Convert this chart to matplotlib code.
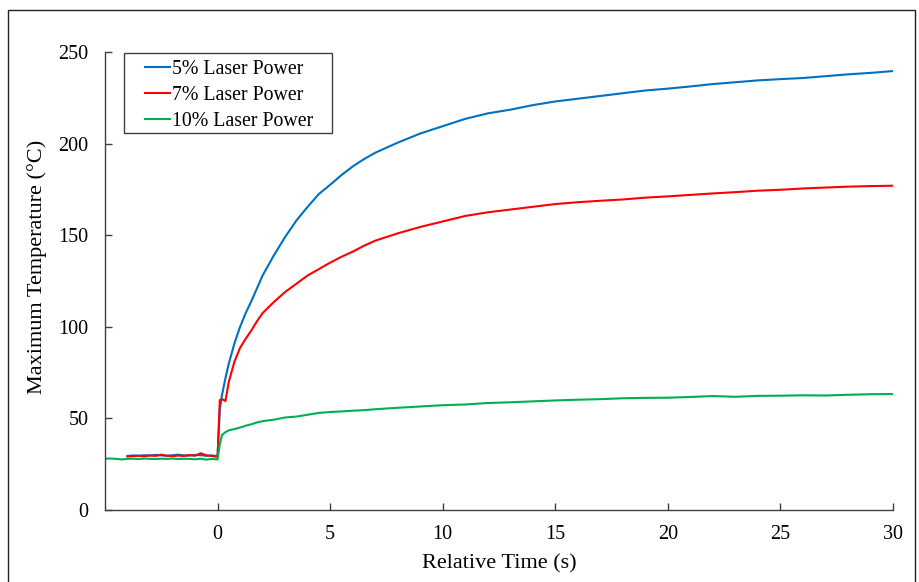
import matplotlib
matplotlib.use("Agg")
import matplotlib.pyplot as plt
from matplotlib.patches import Rectangle

plt.rcParams['font.family'] = ['Liberation Serif', 'DejaVu Serif']

# time before laser on (s)
t_pre_5_7 = [-4.0, -3.75, -3.5, -3.25, -3.0, -2.75, -2.5, -2.25, -2.0, -1.75,
             -1.5, -1.25, -1.0, -0.75, -0.5, -0.25, 0.0]
t_pre_10 = [-5.0, -4.75, -4.5, -4.25, -4.0, -3.75, -3.5, -3.25, -3.0, -2.75, -2.5,
            -2.25, -2.0, -1.75, -1.5, -1.25, -1.0, -0.75, -0.5, -0.25, 0.0]
# time after laser on (s)
t_post = [0.1, 0.2, 0.35, 0.5, 0.75, 1.0, 1.25, 1.5, 1.75, 2.0, 2.5, 3.0, 3.5, 4.0,
          4.5, 5.0, 5.5, 6, 6.5, 7, 8, 9, 10, 11, 12, 13, 14, 15, 16, 17, 18, 19,
          20, 21, 22, 23, 24, 25, 26, 27, 28, 29, 30]

p5_pre = [29.5, 29.8, 29.6, 29.9, 29.7, 30.1, 29.8, 29.6, 29.9, 30.2, 29.8, 29.7,
          30.0, 29.9, 29.6, 29.8, 29.4]
p5_post = [55, 63, 72, 80, 91, 100, 107.5, 114, 121, 128, 139, 149, 158, 165.5,
           172.5, 177.5, 182.8, 187.5, 191.5, 195, 200.5, 205.5, 209.5, 213.5,
           216.5, 218.5, 221, 223, 224.5, 226, 227.5, 229, 230, 231.2, 232.5,
           233.5, 234.5, 235.2, 235.8, 236.8, 237.8, 238.6, 239.6]

p7_pre = [29.2, 29.4, 29.6, 29.3, 29.8, 29.5, 30.2, 29.6, 29.4, 29.7, 29.5, 30.0,
          29.6, 31.0, 29.8, 29.5, 29.0]
p7_post = [60, 60.5, 59.5, 70, 81, 88.5, 93.5, 98, 103, 107.5, 113.5, 119, 123.5,
           128, 131.5, 135, 138.2, 141, 144.2, 147, 151, 154.5, 157.5, 160.5,
           162.5, 164, 165.5, 167, 168, 168.8, 169.5, 170.5, 171.2, 172, 172.8,
           173.5, 174.3, 174.8, 175.5, 176, 176.5, 176.8, 177]

p10_pre = [28.0, 28.1, 27.9, 27.6, 27.9, 28.0, 27.8, 28.1, 27.9, 27.8, 28.0, 27.9,
           28.1, 27.8, 28.0, 27.9, 27.7, 28.0, 27.5, 27.9, 27.6]
p10_post = [36, 41, 42.5, 43.5, 44.2, 45, 46, 46.8, 47.8, 48.5, 49.3, 50.5, 51, 52,
            53, 53.5, 53.8, 54.2, 54.5, 55, 55.8, 56.5, 57.2, 57.6, 58.4, 58.8,
            59.3, 59.8, 60.2, 60.5, 61, 61.2, 61.3, 61.7, 62.2, 61.8, 62.3, 62.4,
            62.6, 62.5, 62.9, 63.2, 63.3]

fig = plt.figure(figsize=(9.2, 5.82), dpi=100)
ax = fig.add_axes([105 / 920, 72 / 582, (893 - 105) / 920, (510 - 52) / 582])

ax.plot(t_pre_5_7 + t_post, p5_pre + p5_post, color='#0070C0', lw=1.5,
        label='5% Laser Power')
ax.plot(t_pre_5_7 + t_post, p7_pre + p7_post, color='#FF0000', lw=1.5,
        label='7% Laser Power')
ax.plot(t_pre_10 + t_post, p10_pre + p10_post, color='#00B050', lw=1.5,
        label='10% Laser Power')

ax.set_xlim(-5, 30)
ax.set_ylim(0, 250)
ax.set_xticks([0, 5, 10, 15, 20, 25, 30])
ax.set_yticks([0, 50, 100, 150, 200, 250])
ax.tick_params(direction='in', length=5, width=1, labelsize=14.5, color='#404040')
ax.tick_params(axis='y', pad=12)
ax.tick_params(axis='x', pad=11)
for s in ['top', 'right']:
    ax.spines[s].set_visible(False)
for s in ['left', 'bottom']:
    ax.spines[s].set_color('#404040')
    ax.spines[s].set_linewidth(1)

ax.set_xlabel('Relative Time (s)', fontsize=16)
ax.set_ylabel('Maximum Temperature (°C)', fontsize=16)
ax.xaxis.set_label_coords(0.5, -0.096)
ax.yaxis.set_label_coords(-0.073, 0.53)

# legend frame drawn separately so the inner padding matches
ax.add_patch(Rectangle((0.0241, 0.823), 0.264, 0.1747, transform=ax.transAxes,
                       fill=True, facecolor='white', edgecolor='#404040',
                       lw=1, zorder=4))
leg = ax.legend(loc='upper left', bbox_to_anchor=(0.0508, 0.983), fontsize=14.3,
                frameon=False, handlelength=1.25, handletextpad=0.12,
                labelspacing=0.36, borderpad=0, borderaxespad=0)
leg.set_zorder(5)

fig.add_artist(Rectangle((8 / 920, -0.05), 907 / 920, 1.05 - 10 / 582,
                         transform=fig.transFigure, fill=False,
                         edgecolor='#202020', lw=1))

fig.savefig('out.png', dpi=100)
